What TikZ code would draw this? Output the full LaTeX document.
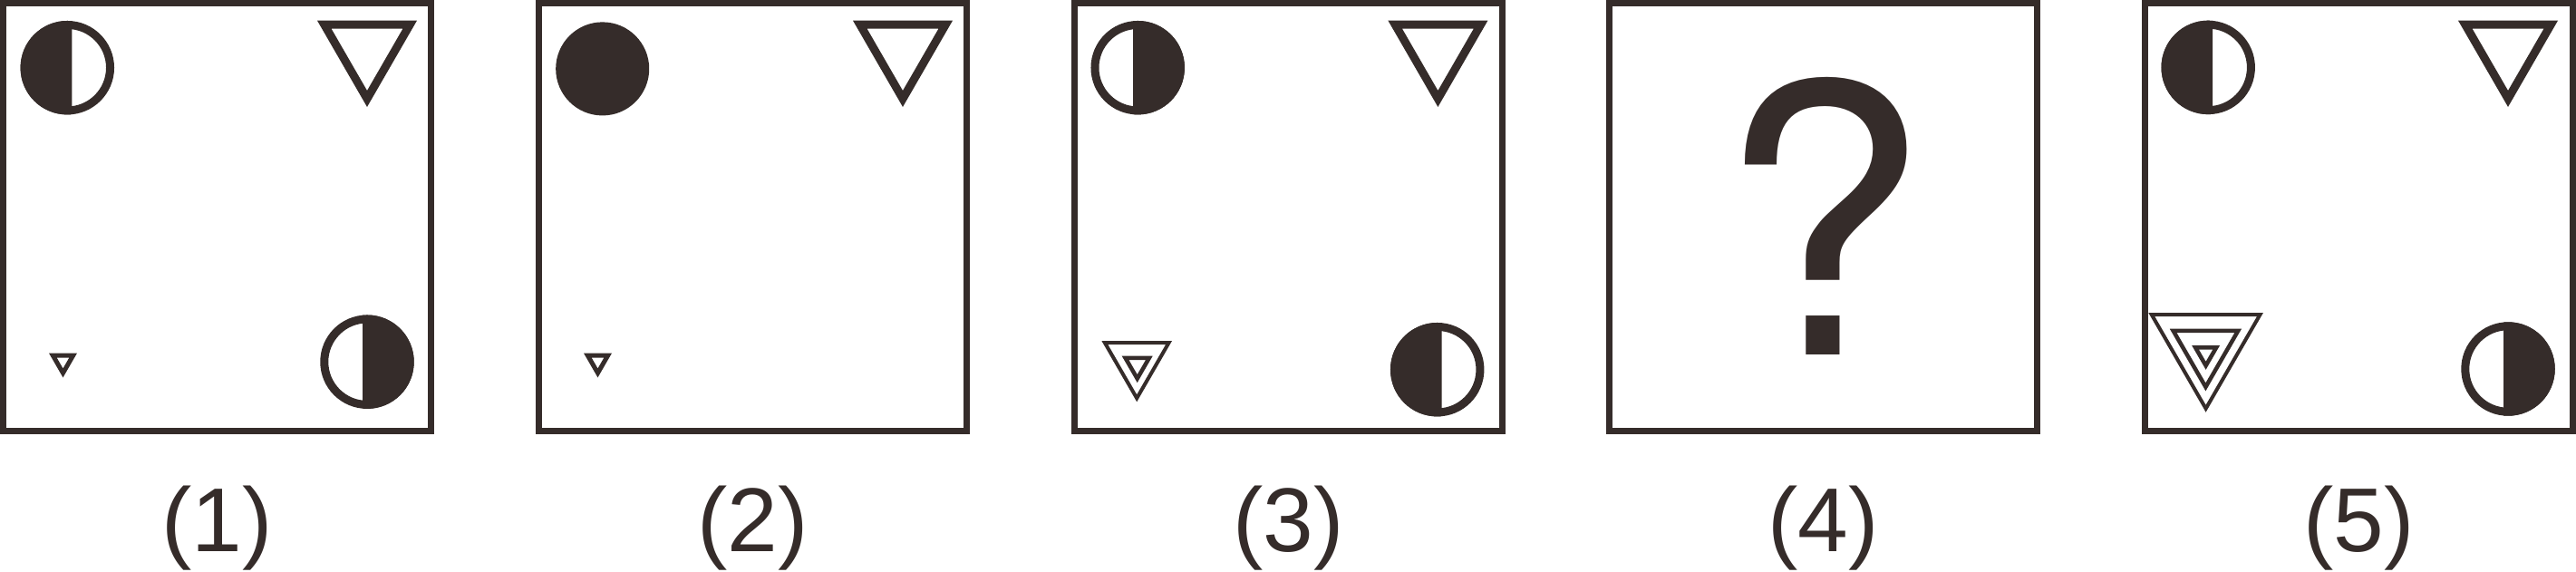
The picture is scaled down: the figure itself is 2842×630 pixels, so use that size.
\documentclass[tikz,border=0pt]{standalone}
\usepackage{fontspec}
\setmainfont{Liberation Sans}
\newfontfamily\qmarkfont{TeX Gyre Heros}
\usepackage{tikz}
\usepackage{xcolor}
\definecolor{figInk}{RGB}{53,44,42}
% one pixel of the layout grid
\def\pxpt{0.28453}
% downward triangle: centre x, top y, width, stroke
\newcommand{\invtri}[4]{%
  \pgfmathsetmacro{\triH}{0.866*#3}%
  \pgfmathsetmacro{\triK}{(\triH/3-#4/2)/(\triH/3)}%
  \pgfmathsetmacro{\triC}{#2+\triH/3}%
  \pgfmathsetmacro{\triW}{#4*\pxpt}%
  \draw[figInk, line width=\triW pt, line join=miter]
    ({#1-\triK*#3/2},{\triC-\triK*\triH/3}) -- ({#1+\triK*#3/2},{\triC-\triK*\triH/3})
    -- ({#1},{\triC+2*\triK*\triH/3}) -- cycle;
}
% half dark discs
\newcommand{\leftdark}[2]{%
  \begin{scope}
    \clip ({#1-60},{#2-60}) rectangle ({#1+5},{#2+60});
    \fill[figInk] (#1,#2) circle[radius=0.517cm];
  \end{scope}
  \draw[figInk, line width=2.56pt] (#1,#2) circle[radius=0.472cm];
}
\newcommand{\rightdark}[2]{%
  \begin{scope}
    \clip ({#1-5},{#2-60}) rectangle ({#1+60},{#2+60});
    \fill[figInk] (#1,#2) circle[radius=0.517cm];
  \end{scope}
  \draw[figInk, line width=2.56pt] (#1,#2) circle[radius=0.472cm];
}

\begin{document}
\begin{tikzpicture}[x=0.01cm, y=-0.01cm,
    panelbox/.style={draw=figInk, line width=1.99pt},
    panellabel/.style={anchor=base, inner sep=0, text=figInk, font=\fontsize{28.45pt}{30pt}\selectfont}]
  \useasboundingbox (0,0) rectangle (2842,630);

  % frames and captions
  \foreach \x/\n in {0/1, 591/2, 1182/3, 1772/4, 2363/5} {
    \draw[panelbox] (\x+3.5,3.5) rectangle (\x+475.5,475.5);
    \node[panellabel] (lab\n) at (\x+239.5,608) {(\n)};
  }

  % (1)
  \leftdark{74.3}{74.7}
  \invtri{405}{22.7}{110}{9}
  \invtri{69.5}{389.6}{31}{5}
  \rightdark{405}{399.2}

  % (2)
  \fill[figInk] (664.7,75.9) circle[radius=0.515cm];
  \invtri{996}{22.7}{110}{9}
  \invtri{659.5}{389.6}{31}{5}

  % (3)
  \rightdark{1255.2}{74.7}
  \invtri{1586.4}{22.7}{110}{9}
  \invtri{1254.2}{376}{77.7}{4}
  \invtri{1254.7}{392.7}{34}{4.5}
  \leftdark{1585.7}{407.7}

  % (4)
  \node[anchor=base, inner sep=0, text=figInk,
    font=\qmarkfont\fontsize{117.5pt}{120pt}\selectfont] (qmark) at (2011.5,391.7) {?};

  % (5)
  \leftdark{2436.2}{74.4}
  \invtri{2767}{22.7}{110}{9}
  \invtri{2433.6}{345}{126.7}{4}
  \invtri{2433.4}{362.7}{79.3}{4.5}
  \invtri{2433.6}{381}{31}{4.5}
  \rightdark{2767}{407}
\end{tikzpicture}
\end{document}
